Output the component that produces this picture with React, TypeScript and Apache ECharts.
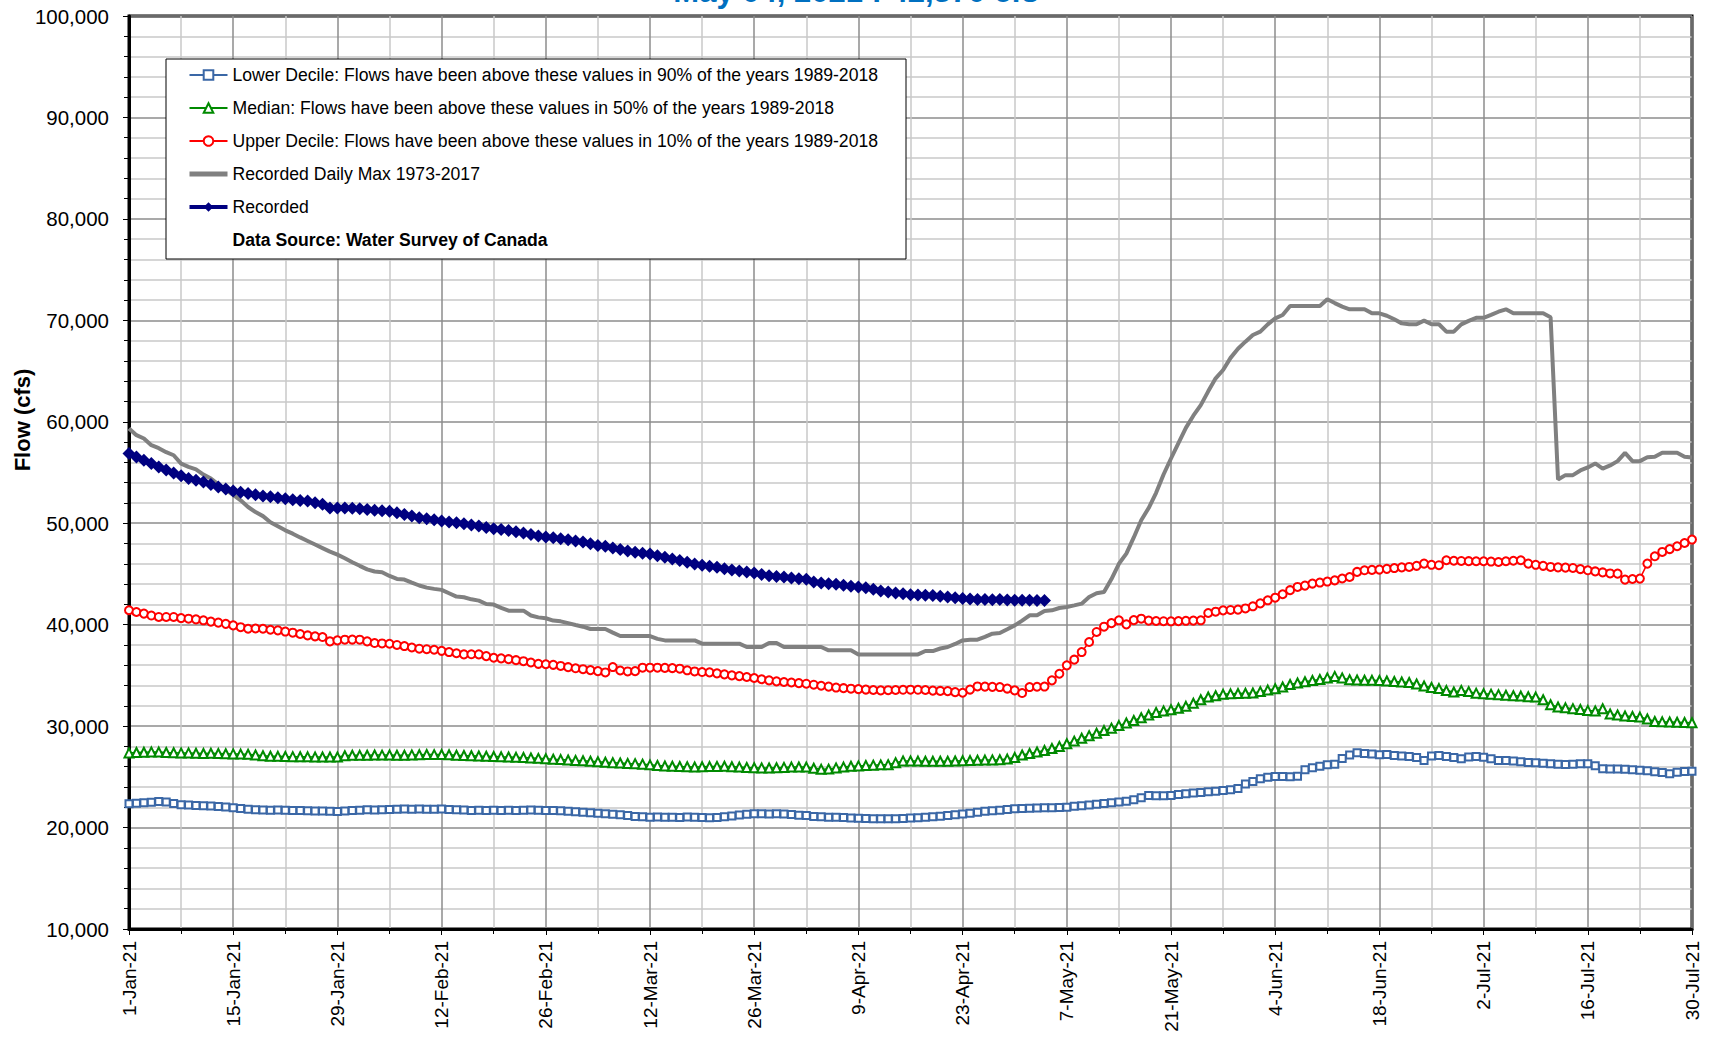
import React, { useEffect, useRef } from "react";
import * as echarts from "echarts";

// Day index 0 = 1-Jan-21 ... 210 = 30-Jul-21
const START_DATE = Date.UTC(2021, 0, 1);
const MONTHS = ["Jan", "Feb", "Mar", "Apr", "May", "Jun", "Jul", "Aug", "Sep", "Oct", "Nov", "Dec"];

const TITLE = "May 04, 2021 : 42,370 cfs";
const Y_AXIS_NAME = "Flow (cfs)";

const SERIES_NAMES = [
  "Lower Decile: Flows have been above these values in 90% of the years 1989-2018",
  "Median: Flows have been above these values in 50% of the years 1989-2018",
  "Upper Decile: Flows have been above these values in 10% of the years 1989-2018",
  "Recorded Daily Max 1973-2017",
  "Recorded",
];
const SOURCE_NOTE = "Data Source: Water Survey of Canada";

const lowerDecile = [
  22340, 22400, 22450, 22500, 22570, 22520, 22380, 22260, 22220, 22180,
  22150, 22120, 22080, 22030, 21950, 21880, 21800, 21750, 21720, 21700,
  21720, 21700, 21680, 21690, 21660, 21640, 21620, 21600, 21580, 21620,
  21680, 21700, 21750, 21720, 21760, 21780, 21800, 21820, 21800, 21830,
  21810, 21800, 21820, 21790, 21760, 21720, 21690, 21700, 21680, 21700,
  21690, 21700, 21680, 21700, 21720, 21700, 21680, 21690, 21650, 21600,
  21560, 21500, 21450, 21400, 21350, 21300, 21260, 21180, 21100, 21060,
  21020, 21030, 21010, 21020, 21000, 21030, 21020, 20990, 20960, 20980,
  21060, 21150, 21250, 21320, 21350, 21370, 21340, 21360, 21330, 21280,
  21220, 21180, 21100, 21060, 21020, 21010, 20980, 20950, 20920, 20900,
  20880, 20870, 20860, 20880, 20900, 20930, 20960, 21010, 21060, 21120,
  21190, 21260, 21340, 21420, 21520, 21600, 21660, 21700, 21780, 21850,
  21880, 21900, 21930, 21950, 21960, 21980, 22000, 22100, 22150, 22230,
  22300, 22380, 22450, 22520, 22600, 22730, 22950, 23160, 23140, 23130,
  23150, 23250, 23330, 23400, 23450, 23520, 23580, 23650, 23720, 23850,
  24300, 24550, 24800, 24950, 25030, 25040, 25020, 25050, 25700, 25900,
  26050, 26200, 26250, 26800, 27150, 27370, 27300, 27250, 27170, 27200,
  27100, 27050, 27000, 26900, 26600, 27050, 27100, 27000, 26900, 26780,
  26950, 27000, 26940, 26780, 26600, 26620, 26550, 26480, 26420, 26400,
  26350, 26300, 26250, 26220, 26250, 26300, 26280, 26100, 25800, 25780,
  25760, 25740, 25700, 25660, 25600, 25500, 25420, 25300, 25450, 25520,
  25560,
];

const median = [
  27360, 27400, 27430, 27460, 27440, 27400, 27380, 27360, 27360, 27330,
  27300, 27320, 27300, 27280, 27260, 27240, 27230, 27150, 27080, 27030,
  27020, 27000, 26990, 26980, 26970, 26960, 26950, 26960, 26960, 27080,
  27130, 27120, 27130, 27150, 27140, 27150, 27130, 27130, 27160, 27180,
  27200, 27190, 27200, 27170, 27130, 27100, 27080, 27050, 27030, 27000,
  26970, 26950, 26920, 26900, 26860, 26820, 26780, 26730, 26700, 26660,
  26620, 26580, 26530, 26490, 26440, 26400, 26360, 26320, 26300, 26250,
  26180, 26120, 26070, 26050, 26020, 26000, 25970, 25990, 26010, 26030,
  26040, 26000, 25960, 25920, 25900, 25880, 25870, 25900, 25930, 25960,
  25970, 25960, 25850, 25740, 25760, 25880, 25960, 26040, 26080, 26120,
  26150, 26180, 26200, 26400, 26570, 26560, 26550, 26540, 26530, 26530,
  26540, 26560, 26580, 26600, 26630, 26650, 26670, 26680, 26750, 26900,
  27150, 27300, 27450, 27600, 27800, 28000, 28260, 28520, 28800, 29060,
  29300, 29560, 29800, 30050, 30300, 30560, 30820, 31100, 31350, 31500,
  31610, 31760, 31950, 32250, 32600, 32870, 33000, 33130, 33180, 33210,
  33240, 33260, 33400, 33550, 33680, 33850, 34100, 34250, 34380, 34500,
  34600, 34750, 34900, 34750, 34570, 34540, 34520, 34510, 34500, 34450,
  34400, 34350, 34300, 34150, 33950, 33800, 33700, 33500, 33360, 33520,
  33400, 33250, 33190, 33150, 33100, 33040, 33000, 32960, 32900, 32860,
  32600, 32100, 31880, 31800, 31720, 31640, 31550, 31500, 31710, 31200,
  31100, 31000, 30950, 30890, 30700, 30460, 30420, 30400, 30380, 30360,
  30330,
];

const upperDecile = [
  41420, 41250, 41090, 40900, 40760, 40760, 40760, 40650, 40590, 40520,
  40430, 40300, 40200, 40080, 39930, 39750, 39600, 39620, 39600, 39500,
  39440, 39320, 39210, 39080, 38940, 38850, 38780, 38350, 38450, 38520,
  38530, 38520, 38350, 38190, 38150, 38120, 38000, 37890, 37750, 37630,
  37580, 37530, 37420, 37300, 37180, 37070, 37080, 37070, 36900, 36740,
  36680, 36600, 36500, 36400, 36270, 36140, 36100, 36040, 35930, 35810,
  35700, 35610, 35520, 35420, 35290, 35820, 35480, 35390, 35420, 35760,
  35760, 35760, 35740, 35720, 35660, 35500, 35390, 35330, 35300, 35200,
  35100, 35000, 34930, 34840, 34740, 34620, 34510, 34410, 34350, 34300,
  34240, 34180, 34080, 33980, 33890, 33800, 33740, 33690, 33650, 33600,
  33560, 33520, 33540, 33560, 33580, 33590, 33580, 33560, 33500, 33470,
  33450, 33350, 33290, 33600, 33910, 33890, 33870, 33850, 33700, 33520,
  33260, 33850, 33880, 33900, 34510, 35160, 35990, 36550, 37300, 38290,
  39280, 39800, 40150, 40430, 40030, 40450, 40590, 40400, 40360, 40340,
  40330, 40350, 40380, 40400, 40430, 41150, 41280, 41410, 41450, 41480,
  41600, 41810, 42100, 42400, 42660, 43000, 43400, 43720, 43850, 44050,
  44150, 44250, 44370, 44550, 44700, 45200, 45360, 45400, 45430, 45500,
  45580, 45650, 45690, 45800, 46020, 45900, 45860, 46350, 46300, 46280,
  46260, 46250, 46250, 46220, 46180, 46250, 46300, 46350, 46020, 45900,
  45800, 45690, 45650, 45620, 45590, 45480, 45360, 45250, 45150, 45050,
  45030, 44440, 44500, 44540, 46020, 46740, 47170, 47450, 47730, 48050,
  48390,
];

const dailyMax = [
  59340, 58680, 58350, 57690, 57400, 57000, 56700, 55880, 55550, 55300,
  54800, 54400, 53840, 53300, 52800, 52260, 51600, 51100, 50700, 50100,
  49700, 49300, 48970, 48600, 48250, 47900, 47550, 47200, 46900, 46550,
  46160, 45800, 45450, 45240, 45170, 44800, 44510, 44450, 44150, 43860,
  43650, 43530, 43430, 43100, 42770, 42700, 42500, 42370, 42040, 41980,
  41650, 41380, 41380, 41380, 40900, 40720, 40630, 40400, 40330, 40150,
  39970, 39800, 39570, 39570, 39570, 39220, 38880, 38880, 38880, 38880,
  38880, 38600, 38450, 38450, 38450, 38450, 38450, 38130, 38130, 38130,
  38130, 38130, 38130, 37800, 37800, 37800, 38190, 38190, 37800, 37800,
  37800, 37800, 37800, 37800, 37470, 37470, 37470, 37470, 37070, 37070,
  37070, 37070, 37070, 37070, 37070, 37070, 37070, 37400, 37400, 37650,
  37800, 38100, 38450, 38520, 38520, 38800, 39110, 39180, 39550, 39930,
  40400, 40920, 40920, 41350, 41410, 41640, 41740, 41900, 42070, 42730,
  43100, 43220, 44500, 46000, 47000, 48600, 50300, 51500, 53000, 54800,
  56380, 57900, 59400, 60600, 61640, 63000, 64280, 65100, 66300, 67200,
  67900, 68550, 68880, 69600, 70200, 70530, 71410, 71410, 71410, 71410,
  71410, 72070, 71700, 71350, 71090, 71090, 71090, 70690, 70690, 70450,
  70100, 69700, 69610, 69610, 69970, 69610, 69610, 68880, 68880, 69600,
  69950, 70250, 70250, 70530, 70850, 71090, 70690, 70690, 70690, 70690,
  70690, 70300, 54310, 54740, 54740, 55200, 55500, 55890, 55390, 55700,
  56120, 56940, 56120, 56120, 56500, 56550, 56940, 56940, 56940, 56550,
  56480,
];

const recorded = [
  56870, 56540, 56210, 55880, 55550, 55250, 54960, 54680, 54400, 54230,
  54070, 53820, 53570, 53380, 53180, 53050, 52920, 52800, 52690, 52600,
  52520, 52420, 52320, 52250, 52190, 52020, 51860, 51500, 51500, 51500,
  51470, 51430, 51350, 51270, 51220, 51170, 51020, 50870, 50700, 50540,
  50450, 50350, 50230, 50120, 50040, 49950, 49830, 49720, 49590, 49460,
  49380, 49290, 49160, 49030, 48880, 48730, 48650, 48570, 48470, 48370,
  48250, 48140, 47980, 47810, 47720, 47560, 47400, 47250, 47140, 47050,
  46970, 46800, 46640, 46480, 46320, 46150, 45980, 45850, 45760, 45650,
  45500, 45390, 45280, 45190, 45100, 44950, 44830, 44760, 44700, 44600,
  44520, 44470, 44200, 44100, 44030, 43980, 43880, 43780, 43720, 43650,
  43500, 43320, 43220, 43120, 43050, 42960, 42920, 42890, 42880, 42800,
  42730, 42650, 42570, 42520, 42470, 42470, 42460, 42470, 42430, 42400,
  42400, 42400, 42390, 42370,
];

const X_MIN = 0;
const X_MAX = 210;
const X_INTERVAL = 14;
const Y_MIN = 10000;
const Y_MAX = 100000;
const Y_INTERVAL = 10000;

const FONT = "'Liberation Sans', Arial, Helvetica, sans-serif";

function dayLabel(day: number): string {
  const d = new Date(START_DATE + day * 86400000);
  return `${d.getUTCDate()}-${MONTHS[d.getUTCMonth()]}-21`;
}

const toPairs = (arr: number[]) => arr.map((v, i) => [i, v]);

export default function App() {
  const ref = useRef<HTMLDivElement | null>(null);

  useEffect(() => {
    if (!ref.current) return;
    const chart = echarts.init(ref.current, null, { renderer: "svg" });

    const option: any = {
      animation: false,
      backgroundColor: "#ffffff",
      title: {
        text: TITLE,
        left: "center",
        top: -24,
        padding: 0,
        textStyle: {
          color: "#0070C0",
          fontSize: 31,
          fontWeight: "bold",
          fontFamily: FONT,
        },
      },
      grid: {
        left: 129,
        top: 16,
        width: 1563,
        height: 913,
        show: true,
        borderColor: "#000000",
        borderWidth: 3,
        backgroundColor: "transparent",
        containLabel: false,
      },
      legend: {
        orient: "vertical",
        left: 166,
        top: 59,
        padding: [6, 28, 9, 21],
        itemGap: 13,
        itemWidth: 38,
        itemHeight: 12,
        selectedMode: false,
        backgroundColor: "#ffffff",
        borderColor: "#000000",
        borderWidth: 1,
        borderRadius: 0,
        textStyle: {
          color: "#000000",
          fontSize: 17.6,
          fontFamily: FONT,
          lineHeight: 20,
        },
        data: [
          { name: SERIES_NAMES[0] },
          { name: SERIES_NAMES[1] },
          { name: SERIES_NAMES[2] },
          { name: SERIES_NAMES[3], itemStyle: { opacity: 0 }, lineStyle: { width: 5 } },
          { name: SERIES_NAMES[4], lineStyle: { width: 4 } },
          { name: SOURCE_NOTE, textStyle: { fontWeight: "bold" } },
        ],
      },
      xAxis: {
        type: "value",
        min: X_MIN,
        max: X_MAX,
        interval: X_INTERVAL,
        axisLine: { show: true, lineStyle: { color: "#000000", width: 3 } },
        axisTick: { show: true, inside: false, length: 6, lineStyle: { color: "#000000", width: 1 } },
        minorTick: { show: true, splitNumber: 2, length: 5, lineStyle: { color: "#000000", width: 1 } },
        splitLine: { show: true, lineStyle: { color: "#8c8c8c", width: 1.5 } },
        minorSplitLine: { show: true, lineStyle: { color: "#c8c8c8", width: 1.5 } },
        axisLabel: {
          rotate: 90,
          margin: 12,
          color: "#000000",
          fontSize: 19,
          fontFamily: FONT,
          formatter: (v: number) => dayLabel(v),
        },
      },
      yAxis: {
        type: "value",
        min: Y_MIN,
        max: Y_MAX,
        interval: Y_INTERVAL,
        axisLine: { show: true, lineStyle: { color: "#000000", width: 3 } },
        axisTick: { show: true, inside: false, length: 6, lineStyle: { color: "#000000", width: 1 } },
        minorTick: { show: true, splitNumber: 5, length: 5, lineStyle: { color: "#000000", width: 1 } },
        splitLine: { show: true, lineStyle: { color: "#8c8c8c", width: 1.5 } },
        minorSplitLine: { show: true, lineStyle: { color: "#c8c8c8", width: 1.5 } },
        axisLabel: {
          margin: 20,
          color: "#000000",
          fontSize: 20.5,
          fontFamily: FONT,
          formatter: (v: number) => v.toLocaleString("en-US"),
        },
      },
      graphic: [
        {
          type: "text",
          x: 22,
          y: 420,
          rotation: Math.PI / 2,
          style: {
            text: Y_AXIS_NAME,
            fill: "#000000",
            font: `bold 22px ${FONT}`,
            textAlign: "center",
            textVerticalAlign: "middle",
          },
        },
      ],
      series: [
        {
          name: SERIES_NAMES[0],
          type: "line",
          data: toPairs(lowerDecile),
          color: "#3A67A6",
          symbol: "emptyRect",
          symbolSize: 7,
          showAllSymbol: true,
          lineStyle: { width: 1.5, color: "#3A67A6" },
          itemStyle: { color: "#3A67A6", borderWidth: 1 },
          z: 2,
        },
        {
          name: SERIES_NAMES[1],
          type: "line",
          data: toPairs(median),
          color: "#008A00",
          symbol: "emptyTriangle",
          symbolSize: 9,
          showAllSymbol: true,
          lineStyle: { width: 1.5, color: "#008A00" },
          itemStyle: { color: "#008A00", borderWidth: 1 },
          z: 3,
        },
        {
          name: SERIES_NAMES[2],
          type: "line",
          data: toPairs(upperDecile),
          color: "#FF0000",
          symbol: "emptyCircle",
          symbolSize: 8,
          showAllSymbol: true,
          lineStyle: { width: 1.5, color: "#FF0000" },
          itemStyle: { color: "#FF0000", borderWidth: 1 },
          z: 4,
        },
        {
          name: SERIES_NAMES[3],
          type: "line",
          data: toPairs(dailyMax),
          color: "#808080",
          symbol: "none",
          lineStyle: { width: 4, color: "#808080" },
          z: 5,
        },
        {
          name: SERIES_NAMES[4],
          type: "line",
          data: toPairs(recorded),
          color: "#000080",
          symbol: "diamond",
          symbolSize: 13,
          showAllSymbol: true,
          lineStyle: { width: 4, color: "#000080" },
          itemStyle: { color: "#000080" },
          z: 6,
        },
        {
          name: SOURCE_NOTE,
          type: "line",
          data: [],
          color: "rgba(0,0,0,0)",
          symbol: "none",
          lineStyle: { width: 0, color: "rgba(0,0,0,0)" },
          itemStyle: { color: "rgba(0,0,0,0)" },
        },
      ],
    };

    chart.setOption(option);
    return () => {
      chart.dispose();
    };
  }, []);

  return (
    <div
      ref={ref}
      style={{ position: "fixed", left: 0, top: 0, width: 1712, height: 1047, background: "#fff" }}
    />
  );
}
